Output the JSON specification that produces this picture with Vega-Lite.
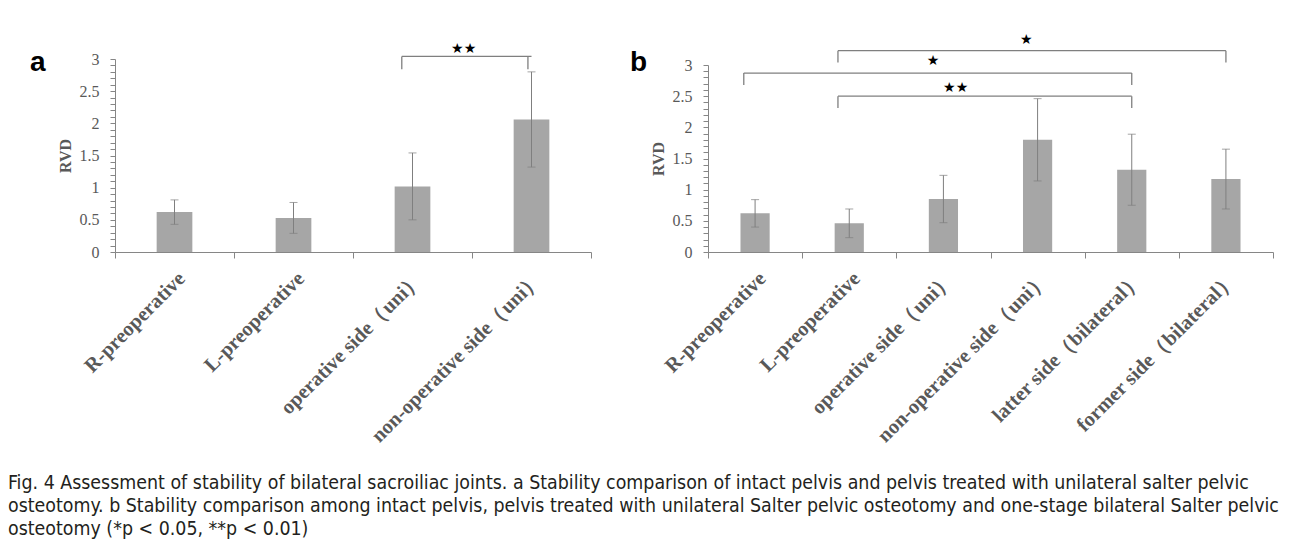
{
  "$schema": "https://vega.github.io/schema/vega-lite/v6.json",
  "padding": {"left": 8, "top": 33, "right": 0, "bottom": 8},
  "background": "white",
  "title": {
    "text": [
      "Fig. 4 Assessment of stability of bilateral sacroiliac joints. a Stability comparison of intact pelvis and pelvis treated with unilateral salter pelvic",
      "osteotomy. b Stability comparison among intact pelvis, pelvis treated with unilateral Salter pelvic osteotomy and one-stage bilateral Salter pelvic",
      "osteotomy (*p < 0.05, **p < 0.01)"
    ],
    "orient": "bottom",
    "anchor": "start",
    "frame": "bounds",
    "font": "DejaVu Sans Condensed",
    "fontSize": 19.4,
    "fontWeight": "normal",
    "lineHeight": 23,
    "color": "#231f20",
    "offset": 28,
    "dx": -22
  },
  "datasets": {
    "barsA": [
      {"cat": "R-preoperative", "mean": 0.62, "err": 0.19},
      {"cat": "L-preoperative", "mean": 0.53, "err": 0.24},
      {"cat": "operative side（uni）", "mean": 1.02, "err": 0.52},
      {"cat": "non-operative side（uni）", "mean": 2.06, "err": 0.74}
    ],
    "barsB": [
      {"cat": "R-preoperative", "mean": 0.62, "err": 0.22},
      {"cat": "L-preoperative", "mean": 0.46, "err": 0.23},
      {"cat": "operative side（uni）", "mean": 0.85, "err": 0.38},
      {"cat": "non-operative side（uni）", "mean": 1.8, "err": 0.66},
      {"cat": "latter side（bilateral）", "mean": 1.32, "err": 0.57},
      {"cat": "former side（bilateral）", "mean": 1.17, "err": 0.48}
    ],
    "bracketsA": [
      {"from": "operative side（uni）", "to": "non-operative side（uni）", "level": 3.04, "drop": 2.84}
    ],
    "bracketsB": [
      {"from": "L-preoperative", "to": "former side（bilateral）", "level": 3.23, "drop": 3.04},
      {"from": "R-preoperative", "to": "latter side（bilateral）", "level": 2.87, "drop": 2.68},
      {"from": "L-preoperative", "to": "latter side（bilateral）", "level": 2.5, "drop": 2.31}
    ]
  },
  "config": {
    "view": {"stroke": null},
    "axis": {
      "domainColor": "#868686",
      "tickColor": "#868686",
      "grid": false
    },
    "axisY": {
      "titleFont": "Liberation Serif", "titleFontWeight": "bold", "titleFontSize": 16, "titleColor": "#595959", "titlePadding": 6,
      "labelFont": "Liberation Serif", "labelFontSize": 16, "labelColor": "#595959", "labelPadding": 11,
      "tickSize": 5
    },
    "axisX": {
      "labelAngle": -45, "tickBand": "extent", "tickSize": 6,
      "labelFont": "Liberation Serif", "labelFontWeight": "bold", "labelFontSize": 20.5, "labelColor": "#595959", "labelPadding": 10, "labelLimit": 400
    }
  },
  "spacing": 38,
  "hconcat": [
    {
      "width": 476,
      "height": 193,
      "title": {"text": "a", "anchor": "start", "frame": "bounds", "font": "Liberation Sans", "fontSize": 28, "fontWeight": "bold", "color": "#000000", "dx": -27, "dy": 35, "offset": 0},
      "layer": [
        {
          "data": {"name": "barsA"},
          "mark": {"type": "bar", "color": "#a6a6a6", "width": {"band": 0.3}},
          "encoding": {
            "x": {"field": "cat", "type": "nominal", "sort": null, "title": null,
              "scale": {"paddingInner": 0, "paddingOuter": 0}},
            "y": {"field": "mean", "type": "quantitative", "title": "RVD",
              "scale": {"domain": [0, 3], "nice": false, "zero": true},
              "axis": {
                "values": [0,0.1,0.2,0.3,0.4,0.5,0.6,0.7,0.8,0.9,1,1.1,1.2,1.3,1.4,1.5,1.6,1.7,1.8,1.9,2,2.1,2.2,2.3,2.4,2.5,2.6,2.7,2.8,2.9,3],
                "tickCount": 40,
                "format": "~g",
                "labelOverlap": false,
                "labelExpr": "indexof([0,0.5,1,1.5,2,2.5,3], datum.value) >= 0 ? datum.label : ''"
              }}
          }
        },
        {
          "data": {"name": "barsA"},
          "mark": {"type": "errorbar", "color": "#7f7f7f", "ticks": {"size": 8, "color": "#7f7f7f"}, "thickness": 1},
          "encoding": {
            "x": {"field": "cat", "type": "nominal", "sort": null, "title": null},
            "y": {"field": "mean", "type": "quantitative", "title": "RVD"},
            "yError": {"field": "err"}
          }
        },
        {
          "data": {"name": "bracketsA"},
          "mark": {"type": "rule", "color": "#7f7f7f", "strokeWidth": 1.3},
          "encoding": {
            "x": {"field": "from", "type": "nominal", "sort": null, "bandPosition": 0.41, "title": null},
            "x2": {"field": "to"},
            "y": {"field": "level", "type": "quantitative", "title": "RVD"}
          }
        },
        {
          "data": {"name": "bracketsA"},
          "mark": {"type": "rule", "color": "#7f7f7f", "strokeWidth": 1.3},
          "encoding": {
            "x": {"field": "from", "type": "nominal", "sort": null, "bandPosition": 0.41, "title": null},
            "y": {"field": "level", "type": "quantitative", "title": "RVD"},
            "y2": {"field": "drop"}
          }
        },
        {
          "data": {"name": "bracketsA"},
          "mark": {"type": "rule", "color": "#7f7f7f", "strokeWidth": 1.3},
          "encoding": {
            "x": {"field": "to", "type": "nominal", "sort": null, "bandPosition": 0.47, "title": null},
            "y": {"field": "level", "type": "quantitative", "title": "RVD"},
            "y2": {"field": "drop"}
          }
        },
        {
          "data": {"values": [{"cat": "operative side（uni）", "y": 3.15, "label": "★★"}]},
          "mark": {"type": "text", "font": "DejaVu Sans", "fontSize": 14, "color": "#000000", "baseline": "middle"},
          "encoding": {
            "x": {"field": "cat", "type": "nominal", "sort": null, "bandPosition": 0.93, "title": null},
            "y": {"field": "y", "type": "quantitative", "title": "RVD"},
            "text": {"field": "label"}
          }
        }
      ]
    },
    {
      "width": 565,
      "height": 193,
      "title": {"text": "b", "anchor": "start", "frame": "bounds", "font": "Liberation Sans", "fontSize": 28, "fontWeight": "bold", "color": "#000000", "dx": -20, "dy": 44, "offset": 0},
      "layer": [
        {
          "data": {"name": "barsB"},
          "mark": {"type": "bar", "color": "#a6a6a6", "width": {"band": 0.31}},
          "encoding": {
            "x": {"field": "cat", "type": "nominal", "sort": null, "title": null,
              "scale": {"paddingInner": 0, "paddingOuter": 0}},
            "y": {"field": "mean", "type": "quantitative", "title": "RVD",
              "scale": {"domain": [0, 3], "nice": false, "zero": true, "range": [193, 6]},
              "axis": {
                "values": [0,0.1,0.2,0.3,0.4,0.5,0.6,0.7,0.8,0.9,1,1.1,1.2,1.3,1.4,1.5,1.6,1.7,1.8,1.9,2,2.1,2.2,2.3,2.4,2.5,2.6,2.7,2.8,2.9,3],
                "tickCount": 40,
                "format": "~g",
                "labelOverlap": false,
                "labelExpr": "indexof([0,0.5,1,1.5,2,2.5,3], datum.value) >= 0 ? datum.label : ''"
              }}
          }
        },
        {
          "data": {"name": "barsB"},
          "mark": {"type": "errorbar", "color": "#7f7f7f", "ticks": {"size": 8, "color": "#7f7f7f"}, "thickness": 1},
          "encoding": {
            "x": {"field": "cat", "type": "nominal", "sort": null, "title": null},
            "y": {"field": "mean", "type": "quantitative", "title": "RVD"},
            "yError": {"field": "err"}
          }
        },
        {
          "data": {"name": "bracketsB"},
          "mark": {"type": "rule", "color": "#7f7f7f", "strokeWidth": 1.3},
          "encoding": {
            "x": {"field": "from", "type": "nominal", "sort": null, "bandPosition": 0.38, "title": null},
            "x2": {"field": "to"},
            "y": {"field": "level", "type": "quantitative", "title": "RVD"}
          }
        },
        {
          "data": {"name": "bracketsB"},
          "mark": {"type": "rule", "color": "#7f7f7f", "strokeWidth": 1.3},
          "encoding": {
            "x": {"field": "from", "type": "nominal", "sort": null, "bandPosition": 0.38, "title": null},
            "y": {"field": "level", "type": "quantitative", "title": "RVD"},
            "y2": {"field": "drop"}
          }
        },
        {
          "data": {"name": "bracketsB"},
          "mark": {"type": "rule", "color": "#7f7f7f", "strokeWidth": 1.3},
          "encoding": {
            "x": {"field": "to", "type": "nominal", "sort": null, "bandPosition": 0.5, "title": null},
            "y": {"field": "level", "type": "quantitative", "title": "RVD"},
            "y2": {"field": "drop"}
          }
        },
        {
          "data": {"values": [{"cat": "non-operative side（uni）", "y": 3.4, "label": "★"}]},
          "mark": {"type": "text", "font": "DejaVu Sans", "fontSize": 14, "color": "#000000", "baseline": "middle"},
          "encoding": {
            "x": {"field": "cat", "type": "nominal", "sort": null, "bandPosition": 0.38, "title": null},
            "y": {"field": "y", "type": "quantitative", "title": "RVD"},
            "text": {"field": "label"}
          }
        },
        {
          "data": {"values": [{"cat": "operative side（uni）", "y": 3.07, "label": "★"}]},
          "mark": {"type": "text", "font": "DejaVu Sans", "fontSize": 14, "color": "#000000", "baseline": "middle"},
          "encoding": {
            "x": {"field": "cat", "type": "nominal", "sort": null, "bandPosition": 0.39, "title": null},
            "y": {"field": "y", "type": "quantitative", "title": "RVD"},
            "text": {"field": "label"}
          }
        },
        {
          "data": {"values": [{"cat": "operative side（uni）", "y": 2.63, "label": "★★"}]},
          "mark": {"type": "text", "font": "DejaVu Sans", "fontSize": 14, "color": "#000000", "baseline": "middle"},
          "encoding": {
            "x": {"field": "cat", "type": "nominal", "sort": null, "bandPosition": 0.63, "title": null},
            "y": {"field": "y", "type": "quantitative", "title": "RVD"},
            "text": {"field": "label"}
          }
        }
      ]
    }
  ]
}
